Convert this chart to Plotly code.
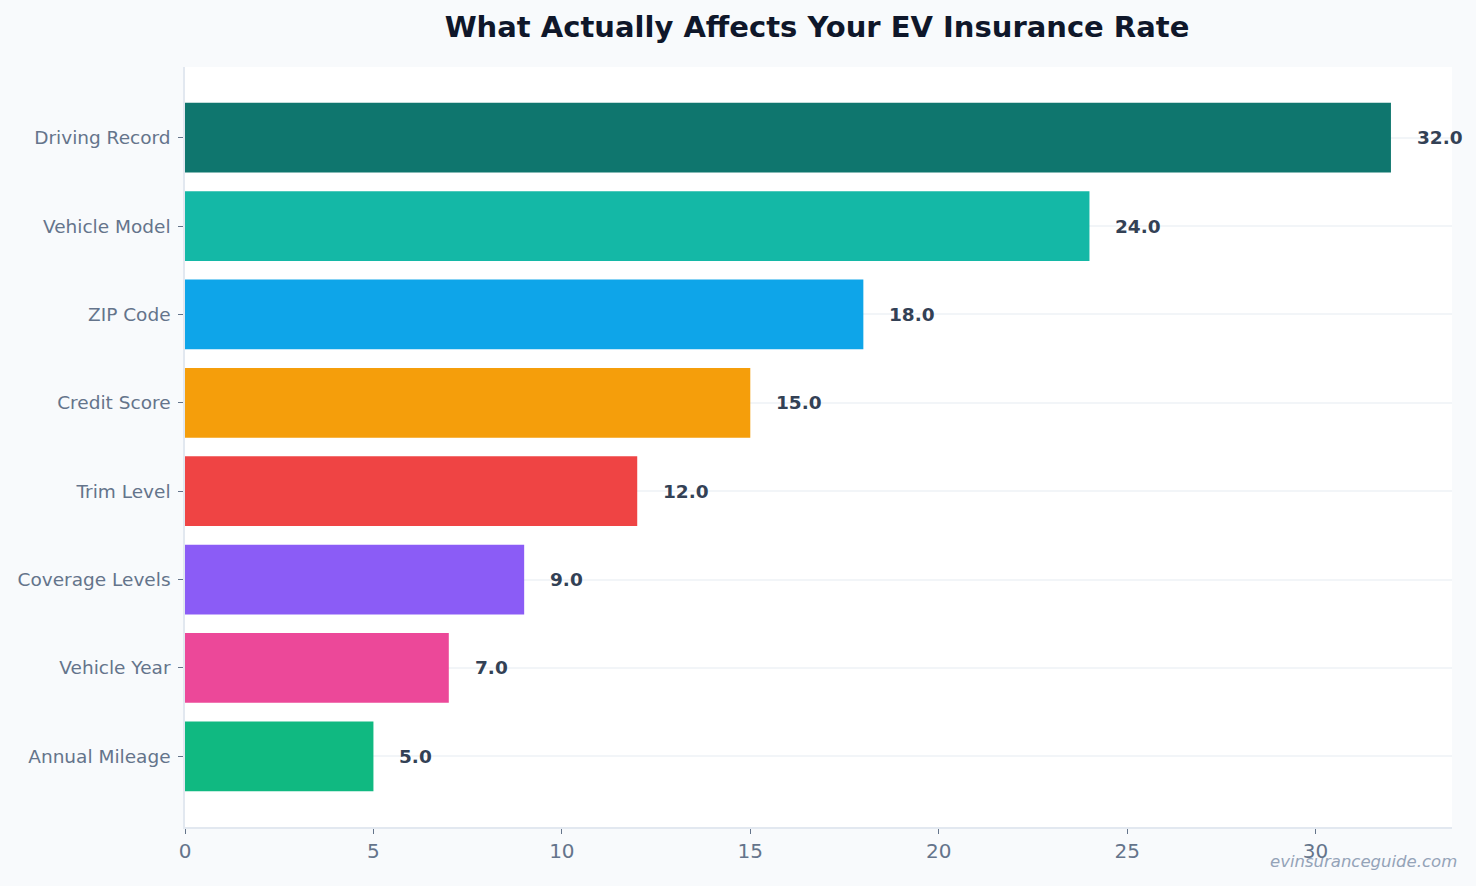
import plotly.graph_objects as go

factors = [
    "Driving Record",
    "Vehicle Model",
    "ZIP Code",
    "Credit Score",
    "Trim Level",
    "Coverage Levels",
    "Vehicle Year",
    "Annual Mileage",
]
impact = [32.0, 24.0, 18.0, 15.0, 12.0, 9.0, 7.0, 5.0]
colors = ["#0f766e", "#14b8a6", "#0ea5e9", "#f59e0b", "#ef4444", "#8b5cf6", "#ec4899", "#10b981"]
x_ticks = [0, 5, 10, 15, 20, 25, 30]

FONT = "DejaVu Sans"

fig = go.Figure()
fig.add_trace(
    go.Bar(
        x=impact,
        y=factors,
        orientation="h",
        marker=dict(color=colors, line=dict(width=0)),
        hovertemplate="%{y}: %{x:.1f}<extra></extra>",
    )
)

# value labels to the right of each bar
for f, v in zip(factors, impact):
    fig.add_annotation(
        x=v, y=f, xref="x", yref="y",
        text=f"<b>{v:.1f}</b>",
        showarrow=False, xanchor="left", xshift=24,
        font=dict(family=FONT, size=18.5, color="#334155"),
    )

fig.add_annotation(
    text="<i>evinsuranceguide.com</i>",
    xref="paper", yref="paper", x=1.0055, y=-0.046,
    xanchor="right", yanchor="middle", showarrow=False,
    font=dict(family=FONT, size=16.5, color="#94a3b8"),
)

fig.update_layout(
    width=1476,
    height=886,
    paper_bgcolor="#f8fafc",
    plot_bgcolor="#ffffff",
    margin=dict(l=185, r=24, t=67, b=59),
    bargap=0.21,
    showlegend=False,
    font=dict(family=FONT, color="#64748b"),
    title=dict(
        text="<b>What Actually Affects Your EV Insurance Rate</b>",
        x=0.5535, xanchor="center", y=0.9695, yanchor="middle",
        font=dict(family=FONT, size=29, color="#0f172a"),
    ),
    xaxis=dict(
        range=[0, 33.62],
        tickvals=x_ticks,
        showgrid=False,
        zeroline=False,
        showline=True, linecolor="#e2e8f0", linewidth=1.5,
        ticks="outside", ticklen=5, tickcolor="#64748b",
        tickfont=dict(family=FONT, size=20, color="#64748b"),
    ),
    yaxis=dict(
        categoryorder="array",
        categoryarray=factors,
        range=[len(factors) - 1 + 0.8, -0.8],
        showgrid=True, gridcolor="rgba(226,232,240,0.45)", gridwidth=1.5,
        layer="above traces",
        zeroline=False,
        showline=True, linecolor="#e2e8f0", linewidth=1.5,
        ticks="outside", ticklen=5, tickcolor="#64748b",
        ticklabelstandoff=4,
        tickfont=dict(family=FONT, size=18.5, color="#64748b"),
    ),
)

fig.write_html(
    "out.html",
    config={"displayModeBar": False},
    post_script="document.body.style.margin='0';",
)
